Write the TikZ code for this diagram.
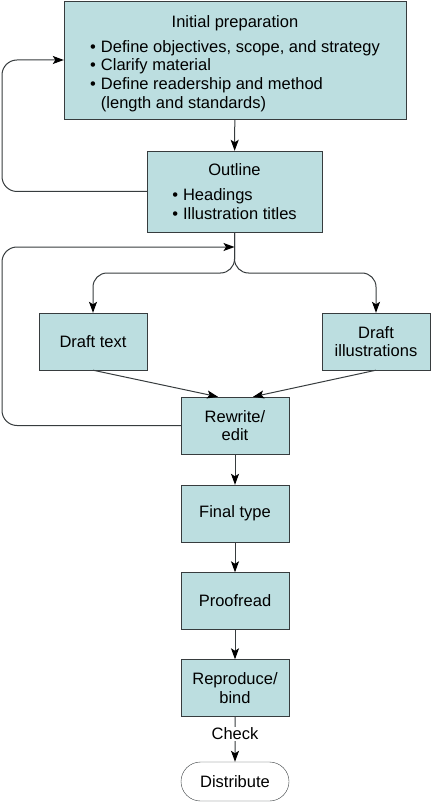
\documentclass[tikz,border=0pt]{standalone}
\usepackage{fontspec}
\setmainfont{Liberation Sans}
\usetikzlibrary{calc,arrows.meta,positioning,shapes.misc}
\definecolor{mypaleteal}{RGB}{188,222,224}
\definecolor{myedge}{RGB}{55,60,62}
\tikzstyle{stage}=[draw=myedge,fill=mypaleteal,rectangle,minimum width=108pt,minimum height=57pt,inner sep=0pt,align=center,font=\fontsize{16.5}{18.7}\selectfont]
\tikzstyle{link}=[draw=myedge,line width=1pt,-{Stealth[length=11pt,width=8pt,inset=2.5pt,black]}]
\tikzstyle{loop}=[link,rounded corners=15pt]

\begin{document}
\begin{tikzpicture}[x=1pt,y=-1pt]
\useasboundingbox (0,0) rectangle (433,802);
\draw (235, 60) node [stage,minimum width=342pt,minimum height=118pt] (n1) {\raisebox{-4pt}[\height][\depth]{\begin{tabular}{@{}c@{}}Initial preparation\\[6.5pt]
  \begin{tabular}{@{}l@{\hspace{5pt}}l@{}}\textbullet & Define objectives, scope, and strategy\\ \textbullet & Clarify material\\ \textbullet & Define readership and method\\ & (length and standards)\end{tabular}\end{tabular}}};
\draw (234.5, 191.5) node [stage,minimum width=175pt,minimum height=81pt] (n2) {\raisebox{-2.5pt}[\height][\depth]{\begin{tabular}{@{}c@{}}Outline\\[6.5pt]
  \begin{tabular}{@{}l@{\hspace{5pt}}l@{}}\textbullet & Headings\\ \textbullet & Illustration titles\end{tabular}\end{tabular}}};
\draw (93, 341.5) node [stage] (n3) {Draft text};
\draw (376, 341.5) node [stage] (n4) {Draft\\illustrations};
\draw (235, 425.5) node [stage] (n5) {Rewrite/\\edit};
\draw (235, 513.5) node [stage] (n6) {Final type};
\draw (235, 601) node [stage] (n7) {Proofread};
\draw (235, 688) node [stage] (n8) {Reproduce/\\bind};
\draw (235, 781.5) node [stage,rounded rectangle,fill=white,minimum height=39pt] (n9) {Distribute};
\coordinate (j1) at (234.5, 247);
\draw[link] (n1) -- (n2);
\draw[loop] (n2.west) -- (2, 191.5) -- (2, 60) -- (n1.west);
\draw[loop] (n5.west) -- (2, 425.5) -- (2, 247) -- (j1);
\draw[loop,rounded corners=14pt] (n2.south) -- (234.5, 273) -- (93, 273) -- (n3.north);
\draw[loop,rounded corners=14pt] (n2.south) -- (234.5, 273) -- (376, 273) -- (n4.north);
\draw[link] (n3.south) -- ([xshift=-17pt]n5.north);
\draw[link] (n4.south) -- ([xshift=18pt]n5.north);
\draw[link] (n5) -- (n6);
\draw[link] (n6) -- (n7);
\draw[link] (n7) -- (n8);
\draw[link] (n8) -- node [pos=0.38,fill=white,inner sep=1pt,font=\fontsize{16.5}{18}\selectfont] {Check} (n9);
\end{tikzpicture}
\end{document}
